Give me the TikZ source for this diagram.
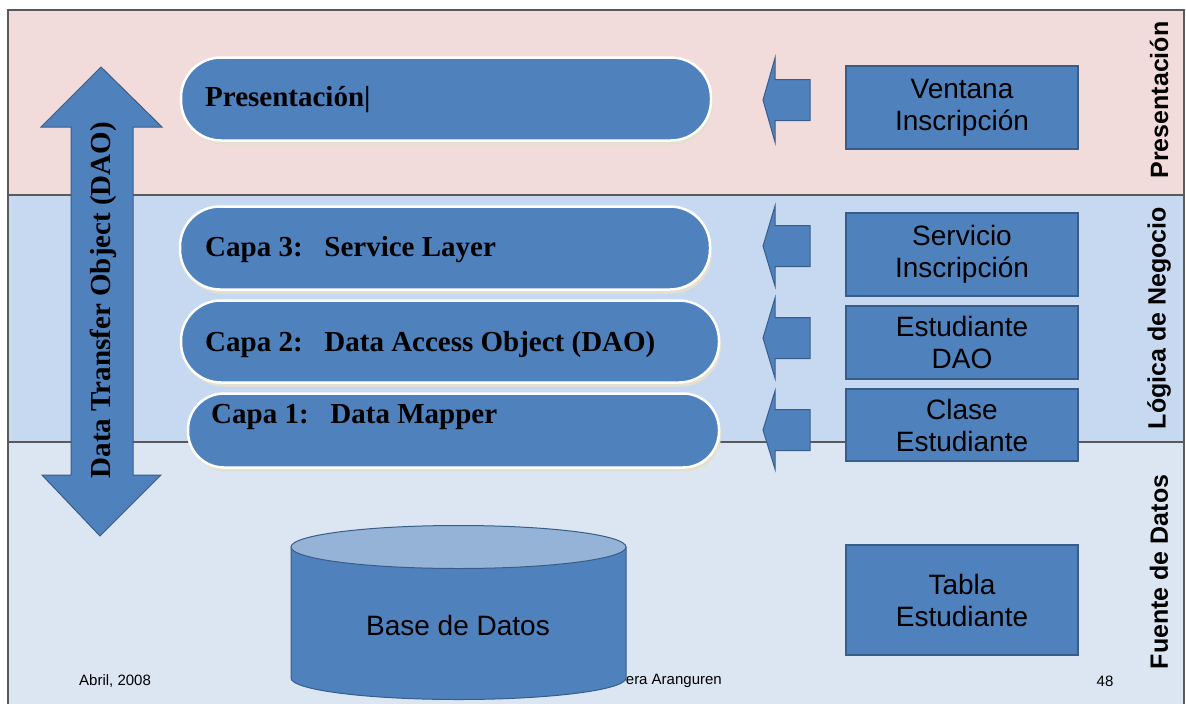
\documentclass[tikz,border=0pt]{standalone}
\usepackage{fontspec}
\setmainfont{Liberation Serif}
\setsansfont{Liberation Sans}
\usetikzlibrary{shadows}

\definecolor{pinkband}{HTML}{F2DCDB}
\definecolor{blueband}{HTML}{C6D9F1}
\definecolor{lightband}{HTML}{DCE6F2}
\definecolor{fillblue}{HTML}{4F81BD}
\definecolor{edgeblue}{HTML}{385D8A}
\definecolor{topblue}{HTML}{95B3D7}
\definecolor{shadowc}{HTML}{E4E0D0}
\definecolor{linegray}{HTML}{5A5A5A}

\tikzset{
  bandline/.style={draw=linegray, line width=1.2pt},
  pill/.style={draw=white, line width=2.5pt, fill=fillblue,
    drop shadow={shadow xshift=2pt, shadow yshift=-4pt, fill=shadowc, opacity=1}},
  pilltext/.style={anchor=west, inner sep=0pt, font=\fontsize{29}{33}\selectfont\bfseries},
  box/.style={draw=edgeblue, line width=1.5pt, fill=fillblue, minimum width=232pt,
    align=center, inner sep=0pt, font=\sffamily\fontsize{28}{32}\selectfont},
  blockarrow/.style={draw=edgeblue, line width=1pt, fill=fillblue, line join=miter},
  sidelabel/.style={rotate=90, font=\sffamily\bfseries\fontsize{25}{30}\selectfont},
  footer/.style={font=\sffamily\fontsize{15}{18}\selectfont, inner sep=0pt},
  pics/leftarrow/.style={code={
    \draw[blockarrow] (0,0) -- (12,-#1) -- (12,-20.5) -- (47,-20.5)
      -- (47,20.5) -- (12,20.5) -- (12,#1) -- cycle;}}
}

\begin{document}
\begin{tikzpicture}[x=1pt,y=-1pt]
\useasboundingbox (0,0) rectangle (1186,704);
\fill[white] (0,0) rectangle (1186,704);

% three horizontal bands
\fill[pinkband] (8,10) rectangle (1185,195);
\fill[blueband] (8,195) rectangle (1185,442);
\fill[lightband] (8,442) rectangle (1185,705);
\draw[bandline] (8,195) -- (1184,195);
\draw[bandline] (8,442) -- (1184,442);
\draw[bandline] (8,705) -- (8,10) -- (1184,10) -- (1184,705);

% vertical double arrow
\draw[blockarrow] (101,67) -- (162,127) -- (133,127) -- (133,475) -- (161,475)
  -- (100,536) -- (42,475) -- (71,475) -- (71,127) -- (41,127) -- cycle;
\node[rotate=90, font=\fontsize{29}{33}\selectfont\bfseries] (dto) at (103,300)
  {Data Transfer Object (DAO)};

% layer pills
\node[pill, minimum width=530pt, minimum height=83pt, rounded corners=40pt] (pres) at (446,99) {};
\node[pilltext] (prest) at (205,100) {Presentación|};
\node[pill, minimum width=530pt, minimum height=83pt, rounded corners=40pt] (capa3) at (445,248) {};
\node[pilltext] (capa3t) at (205,250) {Capa 3:\ \ \ Service Layer};
\node[pill, minimum width=538pt, minimum height=82pt, rounded corners=40pt] (capa2) at (450,341.5) {};
\node[pilltext] (capa2t) at (205,345) {Capa 2:\ \ \ Data Access Object (DAO)};
\node[pill, minimum width=531pt, minimum height=74pt, rounded corners=36pt] (capa1) at (453.5,430.5) {};
\node[pilltext] (capa1t) at (211,417) {Capa 1:\ \ \ Data Mapper};

% arrows from the classes to the layers
\pic at (763,100) {leftarrow=42};
\pic at (763,246) {leftarrow=40};
\pic at (763,338) {leftarrow=40};
\pic at (763,430) {leftarrow=39};

% classes
\node[box, minimum height=83pt] (ventana) at (962,107.5) {Ventana\\Inscripción};
\node[box, minimum height=83pt] (servicio) at (962,254.5) {Servicio\\Inscripción};
\node[box, minimum height=73pt] (estdao) at (962,342.5) {Estudiante\\DAO};
\node[box, minimum height=72pt] (clase) at (962,425) {Clase\\Estudiante};
\node[box, minimum height=110pt] (tabla) at (962,600) {Tabla\\Estudiante};

% side labels
\node[sidelabel] (lp) at (1159,100) {Presentación};
\node[sidelabel] (ln) at (1159,318) {Lógica de Negocio};
\node[sidelabel] (lf) at (1159,572) {Fuente de Datos};

% footer
\node[footer, anchor=west] (fdate) at (79,681) {Abril, 2008};
\node[footer, anchor=east] (fauthor) at (722,681) {era\ Aranguren};
\node[footer] (fpage) at (1105,681) {48};

% database cylinder
\draw[draw=edgeblue, line width=1pt, fill=fillblue] (291,547) -- (291,678)
  arc[start angle=180, end angle=360, x radius=167.5pt, y radius=21.5pt]
  -- (626,547) -- cycle;
\draw[draw=edgeblue, line width=1pt, fill=topblue] (458.5,547)
  ellipse[x radius=167.5pt, y radius=21.5pt];
\node[font=\sffamily\fontsize{28}{32}\selectfont] (db) at (458,625) {Base de Datos};
\end{tikzpicture}
\end{document}
